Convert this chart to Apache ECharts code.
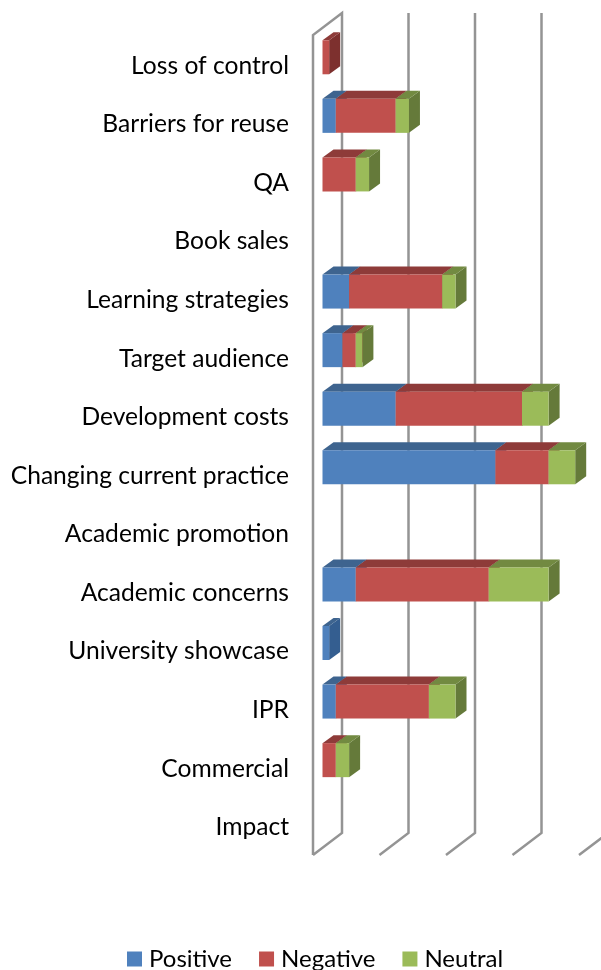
<!DOCTYPE html>
<html>
<head>
<meta charset="utf-8">
<style>
  html, body { margin: 0; padding: 0; background: #fff; }
  #chart { width: 601px; height: 970px; }
</style>
<script src="https://cdn.jsdelivr.net/npm/echarts@6/dist/echarts.min.js"></script>
</head>
<body>
<div id="chart"></div>
<script>
const categories = ['Loss of control', 'Barriers for reuse', 'QA', 'Book sales', 'Learning strategies', 'Target audience',
  'Development costs', 'Changing current practice', 'Academic promotion', 'Academic concerns', 'University showcase',
  'IPR', 'Commercial', 'Impact']
const positive = [0, 2, 0, 0, 4, 3, 11, 26, 0, 5, 1, 2, 0, 0]
const negative = [1, 9, 5, 0, 14, 2, 19, 8, 0, 20, 0, 14, 2, 0]
const neutral = [0, 2, 2, 0, 2, 1, 4, 4, 0, 9, 0, 4, 2, 0]
const valueTicks = [0, 10, 20, 30, 40]

// 3d look: offset of the back wall and of the bars, in pixels
const wallDepth = [29, -22]
const barOffset = [9.5, -7]
const barDepth = [11, -8]
const barHeight = 34

// start and end of each stacked piece
function stackRows(values, below) {
  return values.map((v, i) => {
    let start = 0
    below.forEach((b) => { start += b[i] })
    return [i, start, start + v]
  })
}

function renderWall(params, api) {
  const box = params.coordSys
  const x = api.coord([api.value(0), 0])[0]
  const bottom = box.y + box.height
  const points = [
    [x, bottom],
    [x + wallDepth[0], bottom + wallDepth[1]],
    [x + wallDepth[0], box.y + wallDepth[1]]
  ]
  // the first line also closes the left wall
  if (params.dataIndex === 0) {
    points.push([x, box.y], [x, bottom])
  }
  return {
    type: 'polyline',
    shape: { points: points },
    style: { stroke: '#949494', lineWidth: 2.5, fill: null }
  }
}

function barRenderer(front, top, side) {
  return function(params, api) {
    const start = api.value(1)
    const end = api.value(2)
    if (end <= start) {
      return null
    }
    const idx = api.value(0)
    const x0 = api.coord([start, idx])[0] + barOffset[0]
    const x1 = api.coord([end, idx])[0] + barOffset[0]
    const y0 = api.coord([start, idx])[1] + barOffset[1] - barHeight / 2
    const y1 = y0 + barHeight
    const dx = barDepth[0]
    const dy = barDepth[1]
    return {
      type: 'group',
      children: [
        { type: 'polygon', shape: { points: [[x1, y0], [x1 + dx, y0 + dy], [x1 + dx, y1 + dy], [x1, y1]] }, style: { fill: side } },
        { type: 'polygon', shape: { points: [[x0, y0], [x1, y0], [x1 + dx, y0 + dy], [x0 + dx, y0 + dy]] }, style: { fill: top } },
        { type: 'rect', shape: { x: x0, y: y0, width: x1 - x0, height: barHeight }, style: { fill: front } }
      ]
    }
  }
}

const chart = echarts.init(document.getElementById('chart'))
chart.setOption({
  animation: false,
  backgroundColor: '#fff',
  grid: { left: 313, top: 35, width: 266, height: 820 },
  legend: {
    left: 122,
    top: 942,
    data: ['Positive', 'Negative', 'Neutral'],
    icon: 'rect',
    itemWidth: 15,
    itemHeight: 15,
    itemGap: 27,
    textStyle: { fontFamily: 'Lato', fontSize: 24, color: '#000', padding: [0, 0, 0, 2] }
  },
  xAxis: { type: 'value', min: 0, max: 40, interval: 10, show: false },
  yAxis: {
    type: 'category',
    inverse: true,
    data: categories,
    axisLine: { show: false },
    axisTick: { show: false },
    splitLine: { show: false },
    axisLabel: { margin: 24, fontFamily: 'Lato', fontSize: 24.6, color: '#000', verticalAlign: 'top', lineHeight: 3 }
  },
  series: [
    {
      name: 'walls',
      type: 'custom',
      renderItem: renderWall,
      data: valueTicks.map((v) => [v, 0]),
      encode: { x: 0, y: 1 },
      silent: true
    },
    {
      name: 'Positive',
      type: 'custom',
      itemStyle: { color: '#4f81bd' },
      renderItem: barRenderer('#4f81bd', '#3e648f', '#345e90'),
      data: stackRows(positive, []),
      encode: { x: [1, 2], y: 0 }
    },
    {
      name: 'Negative',
      type: 'custom',
      itemStyle: { color: '#c0504d' },
      renderItem: barRenderer('#c0504d', '#8e3b39', '#7d302e'),
      data: stackRows(negative, [positive]),
      encode: { x: [1, 2], y: 0 }
    },
    {
      name: 'Neutral',
      type: 'custom',
      itemStyle: { color: '#9bbb59' },
      renderItem: barRenderer('#9bbb59', '#728a41', '#657a3a'),
      data: stackRows(neutral, [positive, negative]),
      encode: { x: [1, 2], y: 0 }
    }
  ]
})
</script>
</body>
</html>
